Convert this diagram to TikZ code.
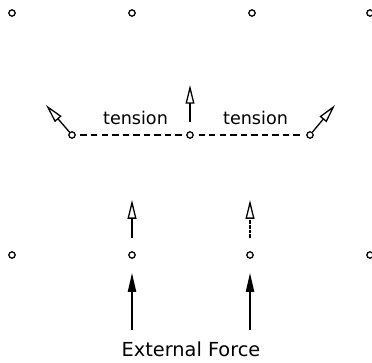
\documentclass[tikz,border=0pt]{standalone}
\usepackage{fontspec}
\setmainfont{DejaVu Sans}
\usetikzlibrary{arrows.meta}
\tikzset{
  oarr/.style={-{Triangle[open,length=16pt,width=7.5pt]}},
  farr/.style={-{Triangle[length=16pt,width=7pt]}},
  pt/.style={circle,draw,minimum size=1.9mm,inner sep=0pt},
  dsh/.style={dash pattern=on 5.5pt off 3.5pt,shorten <=4pt,shorten >=4pt},
  lbl/.style={anchor=base,inner sep=0pt,font=\fontsize{15}{18}\selectfont},
  every picture/.style={line width=1.1pt},
}
\begin{document}
\begin{tikzpicture}[x=0.3mm,y=-0.3mm]
\useasboundingbox (0,0) rectangle (372,362);
% outer points
\node[pt] (t1) at (12,13){}; \node[pt] (t2) at (132,13){}; \node[pt] (t3) at (252,13){}; \node[pt] (t4) at (370,13){};
\node[pt] (b1) at (12,255){}; \node[pt] (b2) at (132,255){}; \node[pt] (b3) at (250,255){}; \node[pt] (b4) at (370,255){};
% string under tension
\node[pt] (m1) at (72,135){}; \node[pt] (m2) at (190,135){}; \node[pt] (m3) at (310,135){};
\draw[dsh] (m1)--(m2); \draw[dsh] (m2)--(m3);
\node[lbl] (tl) at (135.5,124){tension}; \node[lbl] (tr) at (255.5,124){tension};
\coordinate (a1) at (46,105); \coordinate (a3) at (335,105);
\coordinate (a2s) at (190,122); \coordinate (a2) at (190,85);
\draw[oarr] (m1)--(a1); \draw[oarr] (m3)--(a3); \draw[oarr] (a2s)--(a2);
% response of the bottom points
\coordinate (u2s) at (132,238); \coordinate (u2) at (132,200);
\coordinate (u3s) at (250,238); \coordinate (u3) at (250,200);
\draw[oarr] (u2s)--(u2); \draw[oarr,dash pattern=on 3pt off 1pt] (u3s)--(u3);
% external force
\coordinate (f2s) at (132,330); \coordinate (f2) at (132,273);
\coordinate (f3s) at (250,330); \coordinate (f3) at (250,273);
\draw[farr] (f2s)--(f2); \draw[farr] (f3s)--(f3);
\node[lbl,font=\fontsize{16.5}{20}\selectfont] (ef) at (191,356){External Force};
\end{tikzpicture}
\end{document}
